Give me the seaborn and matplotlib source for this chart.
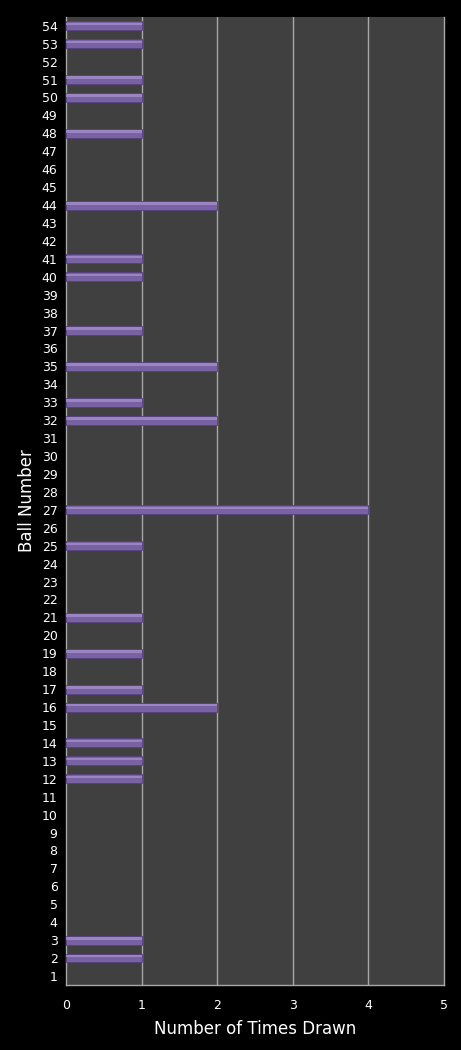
import matplotlib
matplotlib.use("Agg")
import matplotlib.pyplot as plt
import seaborn as sns
import pandas as pd

balls = list(range(1, 55))
drawn_balls = [2, 3, 12, 13, 14, 16, 17, 19, 21, 25, 27, 32, 33, 35, 37, 40, 41, 44, 48, 50, 51, 53, 54]
drawn_counts = [1, 1, 1, 1, 1, 2, 1, 1, 1, 1, 4, 2, 1, 2, 1, 1, 1, 2, 1, 1, 1, 1, 1]
x_ticks = [0, 1, 2, 3, 4, 5]

counts = {b: 0 for b in balls}
for b, c in zip(drawn_balls, drawn_counts):
    counts[b] = c
df = pd.DataFrame({"ball": [str(b) for b in balls], "count": [counts[b] for b in balls]})
order = [str(b) for b in reversed(balls)]

sns.set_theme(style="dark")
plt.rcParams['font.family'] = ['DejaVu Sans']

fig = plt.figure(figsize=(4.61, 10.5), dpi=100, facecolor="black")
ax = fig.add_axes([0.143, 0.062, 0.82, 0.922])
ax.set_facecolor("#404040")

sns.barplot(data=df, x="count", y="ball", order=order, orient="h", ax=ax,
            color="#7862a4", width=0.5, edgecolor="#55417f", linewidth=0.6,
            saturation=1, zorder=3)
# highlight stripe
sns.barplot(data=df, x="count", y="ball", order=order, orient="h", ax=ax,
            color="#a38fca", width=0.14, linewidth=0, saturation=1, zorder=4,
            alpha=0.8)
for p in ax.patches[len(order):]:
    p.set_y(p.get_y() - 0.1)
for p in ax.patches:
    if p.get_width() == 0:
        p.set_visible(False)

ax.set_xlim(0, 5)
ax.set_xticks(x_ticks)
ax.set_xticklabels([str(t) for t in x_ticks])
ax.grid(False)
for t in x_ticks[1:-1]:
    ax.axvline(t, color="#a8a8a8", lw=1, zorder=1)

ax.spines["top"].set_visible(False)
for s in ["left", "bottom", "right"]:
    ax.spines[s].set_visible(True)
    ax.spines[s].set_color("#a8a8a8")
    ax.spines[s].set_linewidth(1)

ax.tick_params(axis="both", colors="white", labelsize=9, length=0, pad=6)
ax.tick_params(axis="x", pad=10)
ax.set_xlabel("Number of Times Drawn", color="white", fontsize=12, labelpad=6)
ax.set_ylabel("Ball Number", color="white", fontsize=12, labelpad=4)

fig.savefig("out.png", dpi=100, facecolor="black")
